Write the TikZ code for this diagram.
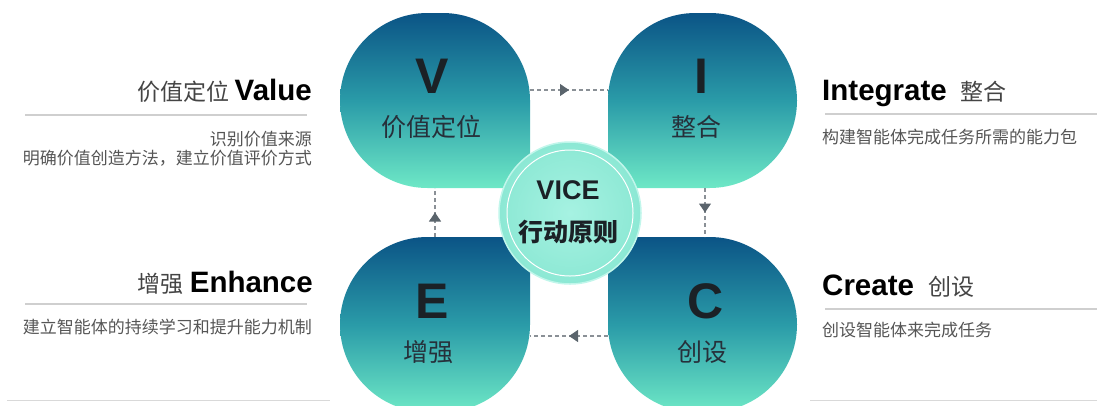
\documentclass[tikz,border=0pt]{standalone}
\usepackage{fontspec}
\setmainfont{Liberation Sans}
\newfontfamily\cjk{Noto Sans CJK SC}
\usetikzlibrary{arrows.meta,decorations.markings}
\definecolor{ptop}{HTML}{0B5486}
\definecolor{pmid}{HTML}{2A9BA8}
\definecolor{pbot}{HTML}{6EE8C6}
\definecolor{cfill}{HTML}{8CE8D4}
\definecolor{cfill2}{HTML}{A6F2E2}
\definecolor{ink}{HTML}{1B2126}
\definecolor{cjkink}{HTML}{26303A}
\definecolor{tgray}{HTML}{444444}
\definecolor{sgray}{HTML}{555555}
\definecolor{rule}{HTML}{CFCFCF}
\definecolor{dashc}{HTML}{8A9096}
\definecolor{tipc}{HTML}{5A646C}
\tikzset{
  petal/.style={top color=ptop, bottom color=pbot, middle color=pmid},
  bigletter/.style={inner sep=0pt, text=ink, font=\bfseries\fontsize{50}{50}\selectfont},
  petaltext/.style={inner sep=0pt, text=cjkink, font=\cjk\fontsize{25}{28}\selectfont},
  titletxt/.style={inner sep=0pt},
  subtxt/.style={inner sep=0pt, text=sgray, font=\cjk\fontsize{17}{18}\selectfont},
  rulebar/.style={draw=rule, line width=1.1pt},
  flow/.style={draw=dashc, line width=1.1pt, dash pattern=on 4pt off 3pt,
    postaction={decorate, decoration={markings,
      mark=at position 0.5 with {\arrow[tipc]{Triangle[length=9pt,width=12pt]}}}}}
}
\newcommand{\latintitle}[1]{{\fontsize{29.5}{32}\selectfont\bfseries\color{black}#1}}
\newcommand{\cjktitle}[1]{{\cjk\fontsize{23}{26}\selectfont\color{tgray}#1}}
\begin{document}
\begin{tikzpicture}[x=1pt,y=-1pt]
\useasboundingbox (0,0) rectangle (1097,405);
\begin{scope}
\clip (0,0) rectangle (1097,405);
% petals
\shade[petal] (530,188) -- (427.5,188) arc(90:180:87.5) arc(180:270:87.5) -- (442.5,13) arc(270:360:87.5) -- cycle;
\shade[petal] (608,188) -- (608,100.5) arc(180:270:87.5) -- (709.5,13) arc(270:360:87.5) arc(0:90:87.5) -- cycle;
\shade[petal] (530,237) -- (530,324.5) arc(0:90:87.5) -- (427.5,412) arc(90:180:87.5) arc(180:270:87.5) -- cycle;
\shade[petal] (608,237) -- (709.5,237) arc(270:360:87.5) arc(0:90:87.5) -- (695.5,412) arc(90:180:87.5) -- cycle;
\end{scope}
% connector ends
\coordinate (vR) at (530,90);
\coordinate (iL) at (608,90);
\coordinate (iB) at (705,188);
\coordinate (cT) at (705,237);
\coordinate (cL) at (608,336);
\coordinate (eR) at (530,336);
\coordinate (eT) at (435,237);
\coordinate (vB) at (435,188);
\draw[flow] (vR) -- (iL);
\draw[flow] (iB) -- (cT);
\draw[flow] (cL) -- (eR);
\draw[flow] (eT) -- (vB);
% center
\node[circle, minimum size=142pt, inner sep=0pt, draw=cfill2!70!white, line width=1.5pt,
      inner color=cfill2, outer color=cfill] (hub) at (570,213) {};
\draw[white, line width=1pt] (hub.center) circle[radius=63];
\node[inner sep=0pt, text=ink, font=\bfseries\fontsize{27}{30}\selectfont] (vice) at (568,190) {VICE};
\node[inner sep=0pt, text=ink, font=\cjk\bfseries\fontsize{25}{28}\selectfont] (xd) at (568,232) {行动原则};
% petal labels
\node[bigletter] (lv) at (432,76) {V};
\node[petaltext] (tv) at (431,127) {价值定位};
\node[bigletter] (li) at (701,76) {I};
\node[petaltext] (ti) at (696,127) {整合};
\node[bigletter] (le) at (432,301) {E};
\node[petaltext] (te) at (428,352) {增强};
\node[bigletter] (lc) at (706,301) {C};
\node[petaltext] (tc) at (702,352) {创设};
% left: Value
\node[titletxt, anchor=base east] (hV) at (312,100) {\cjktitle{价值定位}\hspace{5pt}\latintitle{Value}};
\draw[rulebar] (25,115) -- (307,115);
\node[subtxt, anchor=east] (sV1) at (312,139) {识别价值来源};
\node[subtxt, anchor=east] (sV2) at (312,158) {明确价值创造方法，建立价值评价方式};
% left: Enhance
\node[titletxt, anchor=base east] (hE) at (313,292) {\cjktitle{增强}\hspace{6pt}\latintitle{Enhance}};
\draw[rulebar] (25,304) -- (307,304);
\node[subtxt, anchor=east] (sE) at (312,327) {建立智能体的持续学习和提升能力机制};
% right: Integrate
\node[titletxt, anchor=base west] (hI) at (822,100) {\latintitle{Integrate}\hspace{14pt}\cjktitle{整合}};
\draw[rulebar] (825,114) -- (1097,114);
\node[subtxt, anchor=west] (sI) at (822,137) {构建智能体完成任务所需的能力包};
% right: Create
\node[titletxt, anchor=base west] (hC) at (822,295) {\latintitle{Create}\hspace{14pt}\cjktitle{创设}};
\draw[rulebar] (825,309) -- (1097,309);
\node[subtxt, anchor=west] (sC) at (822,330) {创设智能体来完成任务};
% bottom rules
\draw[draw=rule!80!white, line width=1pt] (7,400) -- (330,400);
\draw[draw=rule!80!white, line width=1pt] (810,400) -- (1097,400);
\end{tikzpicture}
\end{document}
